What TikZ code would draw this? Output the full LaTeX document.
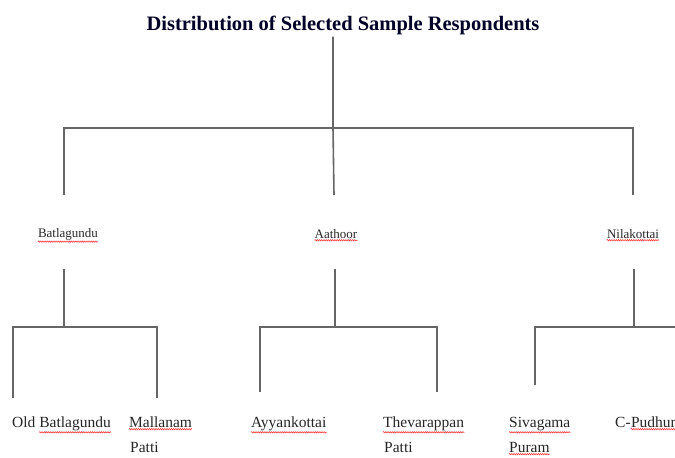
\documentclass[tikz,border=0pt]{standalone}
\usepackage{fontspec}
\setmainfont{Liberation Serif}
\usetikzlibrary{decorations.pathmorphing}
\tikzset{
  conn/.style={draw=black!60, line width=1.6pt},
  lbl/.style={inner sep=0pt, font=\fontsize{13}{15}\selectfont, text=black!85},
  sub/.style={inner sep=0pt, font=\fontsize{15.5}{17}\selectfont, text=black!85},
  ttl/.style={inner sep=0pt, font=\fontsize{20.5}{23}\bfseries\selectfont, text=black!85!blue},
  wave/.style={draw=red!85, line width=0.5pt, decorate, decoration={snake, amplitude=0.7pt, segment length=2.2pt}}
}
\begin{document}
\begin{tikzpicture}[x=1pt,y=-1pt]
\useasboundingbox (0,0) rectangle (675,458);
% title
\node[ttl] (title) at (343,25) {Distribution of Selected Sample Respondents};
% junctions
\coordinate (j0) at (333,128);
\coordinate (jl) at (64,128);
\coordinate (jr) at (633,128);
\coordinate (el) at (64,195);
\coordinate (em) at (334,195);
\coordinate (er) at (633,195);
\draw[conn] (title.south -| j0) ++(0,2) -- (j0) -- (em);
\draw[conn] (el) -- (jl) -- (jr) -- (er);
% middle labels
\node[lbl] (bat) at (68,234) {Batlagundu};
\node[lbl] (aat) at (336,234) {Aathoor};
\node[lbl] (nil) at (633,234) {Nilakottai};
\foreach \n in {bat,aat,nil}{\draw[wave] ([yshift=-1.5pt]\n.south west) -- ([yshift=-1.5pt]\n.south east);}
% Batlagundu subtree
\coordinate (b0) at (64,269);
\coordinate (b1) at (64,327);
\coordinate (bl) at (13,327);
\coordinate (br) at (157,327);
\coordinate (bld) at (13,398);
\coordinate (brd) at (157,398);
\draw[conn] (b0) -- (b1);
\draw[conn] (bld) -- (bl) -- (br) -- (brd);
% Aathoor subtree
\coordinate (a0) at (335,269);
\coordinate (a1) at (335,327);
\coordinate (al) at (260,327);
\coordinate (ar) at (437,327);
\coordinate (ald) at (260,392);
\coordinate (ard) at (437,392);
\draw[conn] (a0) -- (a1);
\draw[conn] (ald) -- (al) -- (ar) -- (ard);
% Nilakottai subtree
\coordinate (n0) at (634,269);
\coordinate (n1) at (634,327);
\coordinate (nl) at (535,327);
\coordinate (nr) at (675,327);
\coordinate (nld) at (535,385);
\draw[conn] (n0) -- (n1);
\draw[conn] (nld) -- (nl) -- (nr);
% bottom labels
\node[sub, anchor=base west] (old) at (12,427) {Old};
\node[sub, anchor=base west] (oldb) at ([xshift=3.5pt]old.base east) {Batlagundu};
\node[sub, anchor=base west] (mal) at (129,427) {Mallanam};
\node[sub, anchor=base west] (malp) at (130,452) {Patti};
\node[sub, anchor=base west] (ayy) at (251,427) {Ayyankottai};
\node[sub, anchor=base west] (the) at (383,427) {Thevarappan};
\node[sub, anchor=base west] (thep) at (384,452) {Patti};
\node[sub, anchor=base west] (siv) at (509,427) {Sivagama};
\node[sub, anchor=base west] (sivp) at (509,452) {Puram};
\node[sub, anchor=base west] (cp) at (615,427) {C-};
\node[sub, anchor=base west] (cpu) at (cp.base east) {Pudhur};
\foreach \n in {oldb,mal,ayy,the,siv,sivp,cpu}{\draw[wave] ([yshift=-1.8pt]\n.south west) -- ([yshift=-1.8pt]\n.south east);}
\end{tikzpicture}
\end{document}
